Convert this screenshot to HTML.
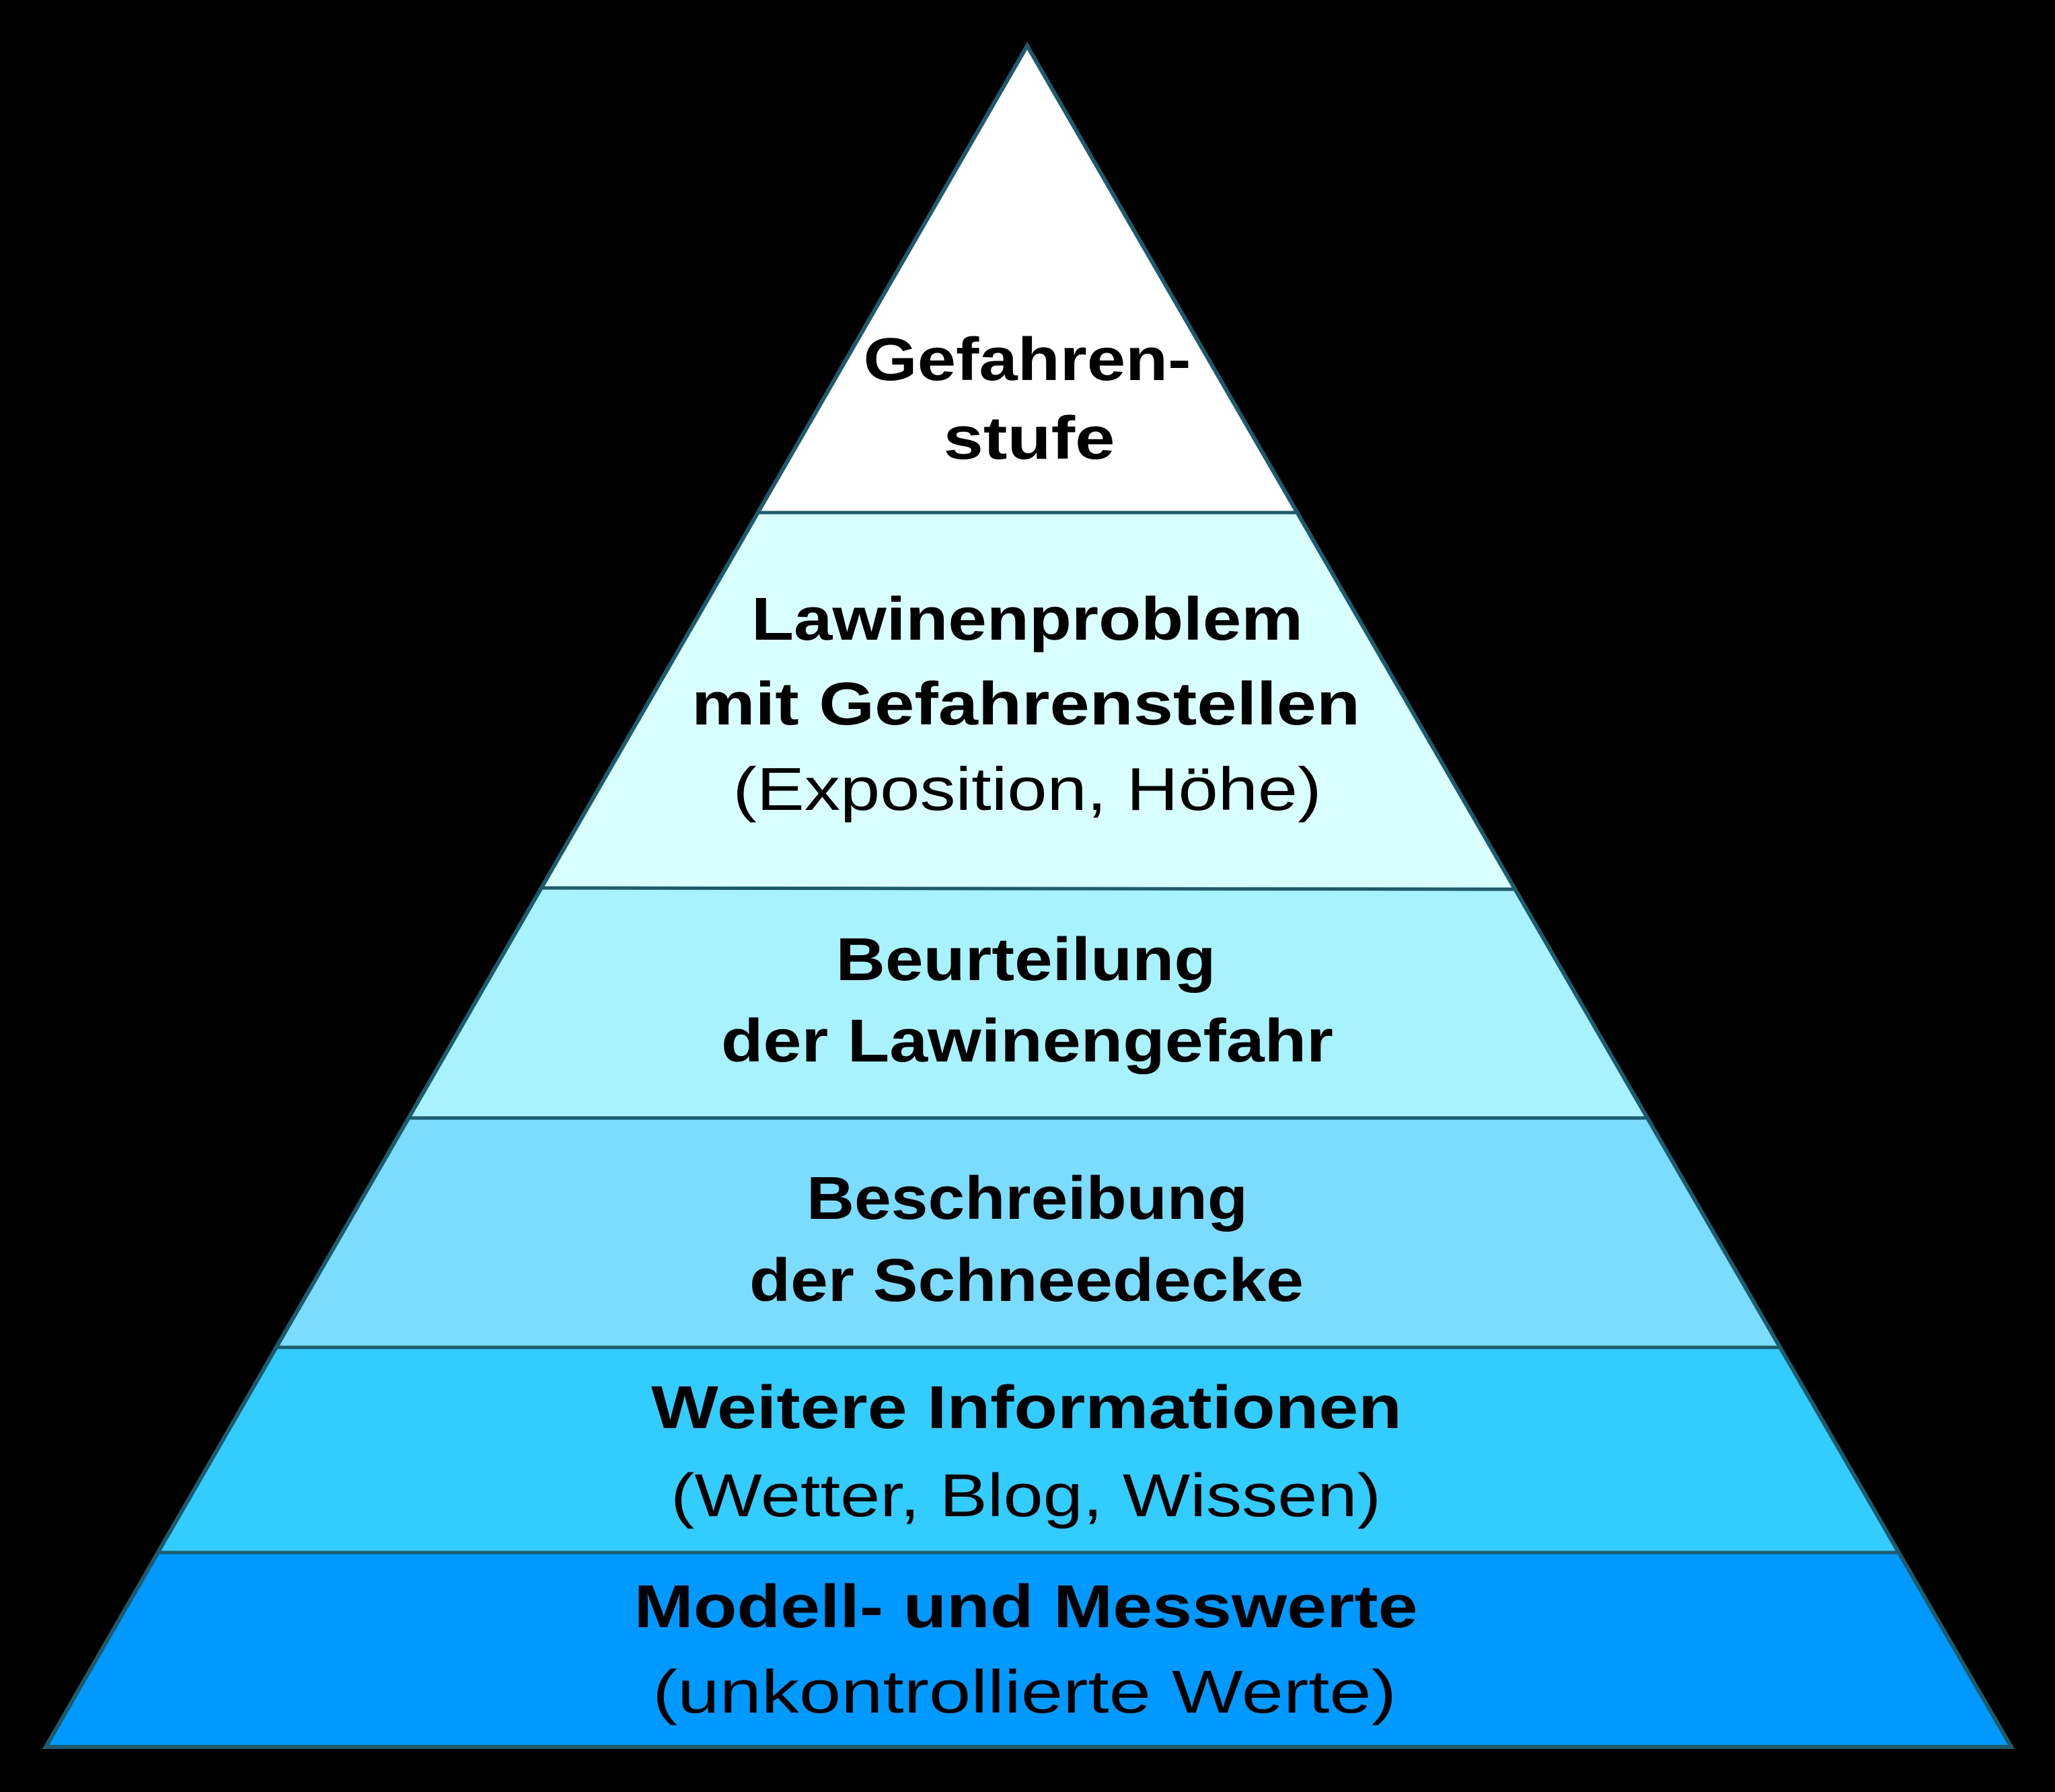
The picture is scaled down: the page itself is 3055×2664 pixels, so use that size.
<!DOCTYPE html>
<html><head><meta charset="utf-8"><style>
html,body{margin:0;padding:0;background:#000;}
svg{display:block}
text{font-family:"Liberation Sans",sans-serif;fill:#000;text-anchor:middle;}
.b{font-weight:bold;font-size:90px}
.r{font-size:90px}
</style></head><body>
<svg width="3055" height="2664" viewBox="0 0 3055 2664" xmlns="http://www.w3.org/2000/svg">
<rect width="3055" height="2664" fill="#000"/>
<defs><clipPath id="t"><polygon points="1527,68 68,2597 2990,2597"/></clipPath></defs>
<g clip-path="url(#t)">
<rect x="0" y="0" width="3055" height="762" fill="#ffffff"/>
<rect x="0" y="762" width="3055" height="557" fill="#d8fefe"/>
<rect x="0" y="1319" width="3055" height="343" fill="#a8f2fd"/>
<rect x="0" y="1662" width="3055" height="341" fill="#7cdcfd"/>
<rect x="0" y="2003" width="3055" height="305" fill="#33ccff"/>
<rect x="0" y="2308" width="3055" height="300" fill="#0099ff"/>
<g stroke="#1d5a6c" stroke-width="5">
<line x1="0" y1="762" x2="3055" y2="762"/>
<line x1="0" y1="1319" x2="3055" y2="1323"/>
<line x1="0" y1="1662" x2="3055" y2="1662"/>
<line x1="0" y1="2003" x2="3055" y2="2003"/>
<line x1="0" y1="2308" x2="3055" y2="2308"/>
</g>
</g>
<polygon points="1527,68 68,2597 2990,2597" fill="none" stroke="#1d5a6c" stroke-width="6" stroke-linejoin="miter"/>
<text class="b" x="1527" y="565" textLength="487" lengthAdjust="spacingAndGlyphs">Gefahren-</text>
<text class="b" x="1530" y="682" textLength="255" lengthAdjust="spacingAndGlyphs">stufe</text>
<text class="b" x="1527" y="951" textLength="820" lengthAdjust="spacingAndGlyphs">Lawinenproblem</text>
<text class="b" x="1525" y="1077" textLength="994" lengthAdjust="spacingAndGlyphs">mit  Gefahrenstellen</text>
<text class="r" x="1527" y="1204" textLength="875" lengthAdjust="spacingAndGlyphs">(Exposition, Höhe)</text>
<text class="b" x="1525" y="1457" textLength="565" lengthAdjust="spacingAndGlyphs">Beurteilung</text>
<text class="b" x="1527" y="1578" textLength="910" lengthAdjust="spacingAndGlyphs">der Lawinengefahr</text>
<text class="b" x="1527" y="1812" textLength="656" lengthAdjust="spacingAndGlyphs">Beschreibung</text>
<text class="b" x="1526" y="1934" textLength="824" lengthAdjust="spacingAndGlyphs">der Schneedecke</text>
<text class="b" x="1526" y="2123" textLength="1116" lengthAdjust="spacingAndGlyphs">Weitere Informationen</text>
<text class="r" x="1525" y="2254" textLength="1056" lengthAdjust="spacingAndGlyphs">(Wetter, Blog, Wissen)</text>
<text class="b" x="1525" y="2419" textLength="1165" lengthAdjust="spacingAndGlyphs">Modell- und Messwerte</text>
<text class="r" x="1523" y="2546" textLength="1106" lengthAdjust="spacingAndGlyphs">(unkontrollierte Werte)</text>
</svg>
</body></html>
